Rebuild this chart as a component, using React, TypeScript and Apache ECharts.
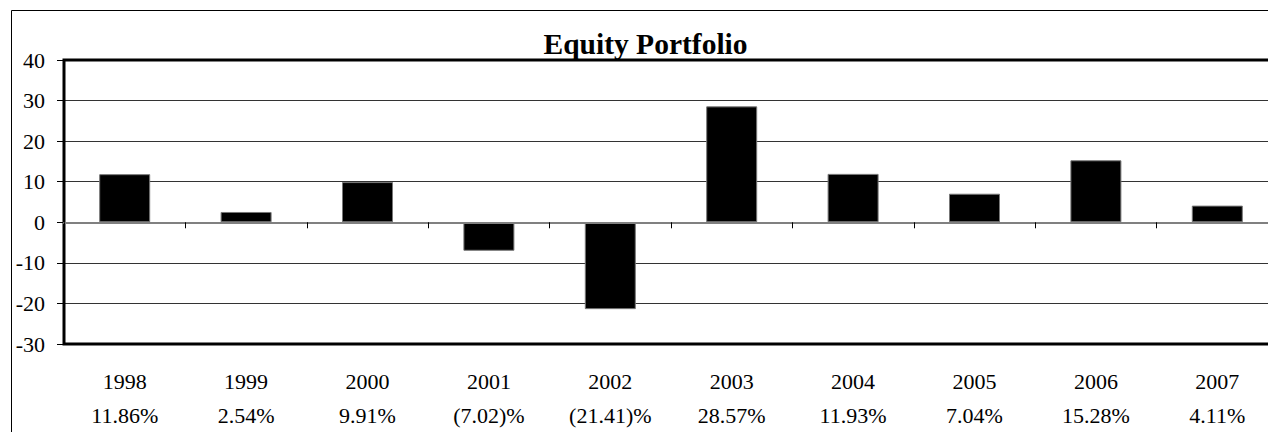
import React, { useEffect, useRef } from "react";
import * as echarts from "echarts";

const years = ["1998", "1999", "2000", "2001", "2002", "2003", "2004", "2005", "2006", "2007"];
const returns = [11.86, 2.54, 9.91, -7.02, -21.41, 28.57, 11.93, 7.04, 15.28, 4.11];
const returnLabels = ["11.86%", "2.54%", "9.91%", "(7.02)%", "(21.41)%", "28.57%", "11.93%", "7.04%", "15.28%", "4.11%"];
const yMin = -30;
const yMax = 40;
const yStep = 10;
const titleText = "Equity Portfolio";

const FONT = "'Liberation Serif', 'Times New Roman', serif";

export default function App() {
  const ref = useRef<HTMLDivElement>(null);
  useEffect(() => {
    if (!ref.current) return;
    const chart = echarts.init(ref.current, undefined, { renderer: "svg" });
    chart.setOption({
      animation: false,
      backgroundColor: "#fff",
      grid: {
        left: 64,
        top: 60,
        width: 1214,
        height: 287,
        show: true,
        borderColor: "#000",
        borderWidth: 3,
        backgroundColor: "transparent",
        z: 3,
      },
      graphic: [
        {
          type: "rect",
          shape: { x: 11.5, y: 10.5, width: 1400, height: 600 },
          style: { fill: "none", stroke: "#000", lineWidth: 1 },
          silent: true,
          z: 0,
        },
        {
          type: "text",
          x: 645.5,
          y: 44,
          style: {
            text: titleText,
            fill: "#000",
            font: `bold 29.5px ${FONT}`,
            align: "center",
            verticalAlign: "middle",
          },
          z: 10,
        },
      ],
      xAxis: [
        {
          type: "category",
          data: years,
          position: "bottom",
          axisLine: { show: true, onZero: true, lineStyle: { color: "#808080", width: 2 } },
          axisTick: { show: true, length: 6, inside: false, lineStyle: { color: "#000", width: 1 } },
          axisLabel: { show: false },
          splitLine: { show: false },
          z: 4,
        },
        {
          type: "category",
          data: years,
          position: "bottom",
          axisLine: { show: false, onZero: false },
          axisTick: { show: false },
          splitLine: { show: false },
          axisLabel: {
            show: true,
            margin: 20,
            color: "#000",
            fontFamily: FONT,
            fontSize: 22,
            lineHeight: 34,
            verticalAlign: "top",
            formatter: (v: string, i: number) => `${v}\n${returnLabels[i]}`,
          },
        },
      ],
      yAxis: {
        type: "value",
        min: yMin,
        max: yMax,
        interval: yStep,
        axisLine: { show: false },
        axisTick: { show: true, length: 7, inside: false, lineStyle: { color: "#000", width: 1 } },
        axisLabel: {
          margin: 19,
          color: "#000",
          fontFamily: FONT,
          fontSize: 22,
        },
        splitLine: { show: true, lineStyle: { color: "#333", width: 1 } },
      },
      series: [
        {
          type: "bar",
          data: returns,
          xAxisIndex: 0,
          barWidth: 51,
          itemStyle: { color: "#000", borderColor: "#777", borderWidth: 1 },
          z: 2,
        },
      ],
    });
    return () => chart.dispose();
  }, []);
  return (
    <div
      style={{
        position: "fixed",
        left: 0,
        top: 0,
        width: 1268,
        height: 432,
        overflow: "hidden",
        background: "#fff",
      }}
    >
      <div ref={ref} style={{ width: 1300, height: 432 }} />
    </div>
  );
}
